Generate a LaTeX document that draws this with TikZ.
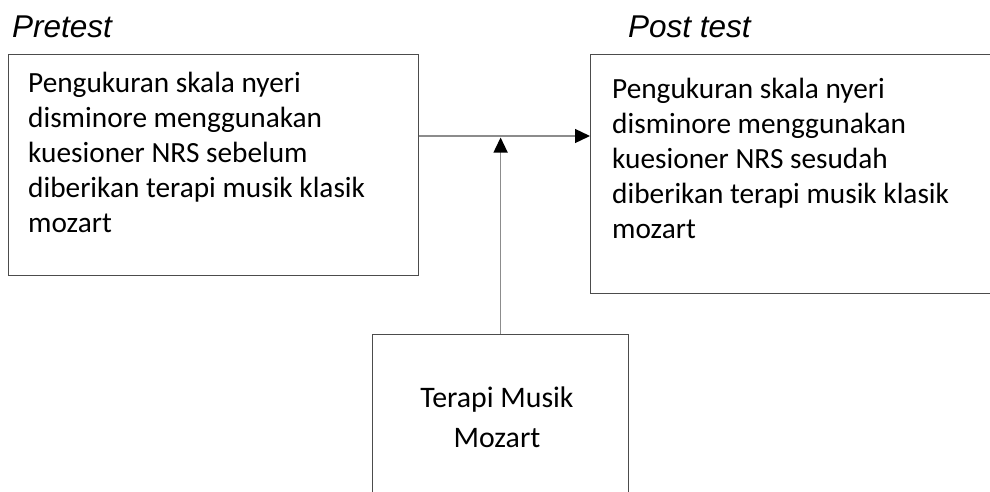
\documentclass[tikz,border=0pt]{standalone}
\usepackage{fontspec}
\setmainfont{Carlito}
\newfontfamily\labelfont{Liberation Sans}
\usetikzlibrary{arrows.meta,positioning}
\begin{document}
\begin{tikzpicture}[
    x=1pt, y=-1pt,
    box/.style={rectangle, draw=black!70, line width=1.2pt, anchor=north west, inner sep=0pt},
    boxtext/.style={anchor=base west, align=left, inner sep=0pt, font=\fontsize{29.3}{34.8}\selectfont},
    phase/.style={anchor=base west, inner sep=0pt, font=\labelfont\itshape\fontsize{31.5}{36}\selectfont},
    link/.style={draw=black!45, line width=1.3pt},
    tip/.style={-{Triangle[length=15pt,width=14pt,color=black]}}
]
    \useasboundingbox (0,0) rectangle (990,491);

    % Labels
    \node[phase] (pre) at (12,37) {Pretest};
    \node[phase] (post) at (628,37) {Post test};

    % Kotak
    \node[box, minimum width=410pt, minimum height=221pt] (prebox) at (8,54) {};
    \node[box, minimum width=420pt, minimum height=239pt] (postbox) at (590,54) {};
    \node[box, minimum width=256pt, minimum height=180pt] (music) at (372,334) {};

    % Isi kotak (anchor = baris terakhir)
    \node[boxtext] (pretxt) at (28,232) {Pengukuran skala nyeri\\disminore menggunakan\\kuesioner NRS sebelum\\diberikan terapi musik klasik\\mozart};
    \node[boxtext] (posttxt) at (612,238) {Pengukuran skala nyeri\\disminore menggunakan\\kuesioner NRS sesudah\\diberikan terapi musik klasik\\mozart};
    \node[align=center, inner sep=0pt, font=\fontsize{29.8}{40}\selectfont, anchor=base] (musictxt) at (497,447) {Terapi Musik\\Mozart};

    % Panah
    \coordinate (junction) at (music.north |- 0,136);
    \draw[link, tip] (prebox.east |- junction) -- (postbox.west |- junction);
    \draw[link, tip, shorten >=1.5pt] (music.north) -- (junction);
\end{tikzpicture}
\end{document}
